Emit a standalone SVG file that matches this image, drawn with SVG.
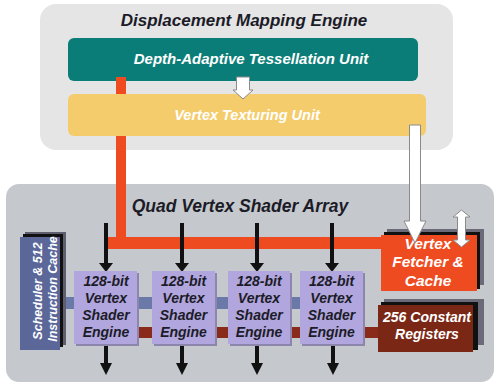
<svg xmlns="http://www.w3.org/2000/svg" width="500" height="390" viewBox="0 0 500 390">
<style>
text{font-family:"Liberation Sans",Arial,sans-serif;font-weight:bold;font-style:italic;text-anchor:middle}
.w{fill:#ffffff}
.d{fill:#1c1c28}
.eng{fill:#b1a6dd}
.engsh{fill:#8c86ad}
.arr{stroke:#111;stroke-width:4;fill:none}
.head{fill:#111}
.warr{fill:#ffffff;stroke:#8a8a8a;stroke-width:1}
</style>
<rect width="500" height="390" fill="#ffffff"/>
<g id="displacement-panel">
<rect x="40" y="4" width="413" height="146" rx="16" fill="#e5e5e5"/>
<text x="244" y="26" font-size="17" class="d" fill="#111">Displacement Mapping Engine</text>
</g>
<g id="tessellation-unit">
<rect x="68" y="38" width="350" height="43" rx="6" fill="#0b7d78"/>
<text x="251" y="64" font-size="15" class="w">Depth-Adaptive Tessellation Unit</text>
</g>
<g id="shader-array-panel">
<rect x="6" y="184" width="488" height="198" rx="13" fill="#c5c8cc"/>
<text x="240" y="212" font-size="17.5" class="d">Quad Vertex Shader Array</text>
</g>
<g id="connectors">
<rect x="116" y="77" width="10" height="172" fill="#ee4b20"/>
<rect x="105" y="237" width="278" height="12" fill="#ee4b20"/>
<rect x="59" y="297" width="16" height="12" fill="#6b79a8"/>
<rect x="137" y="297" width="16" height="12" fill="#6b79a8"/>
<rect x="215" y="297" width="14" height="12" fill="#6b79a8"/>
<rect x="290" y="297" width="11" height="12" fill="#6b79a8"/>
<rect x="137" y="327" width="16" height="11" fill="#8a2a1a"/>
<rect x="215" y="327" width="14" height="11" fill="#8a2a1a"/>
<rect x="290" y="327" width="11" height="11" fill="#8a2a1a"/>
<rect x="363" y="327" width="16" height="11" fill="#8a2a1a"/>
<line class="arr" x1="106" y1="223" x2="106" y2="265"/>
<polygon class="head" points="99,263 113,263 106,272"/>
<line class="arr" x1="182" y1="223" x2="182" y2="265"/>
<polygon class="head" points="175,263 189,263 182,272"/>
<line class="arr" x1="257" y1="223" x2="257" y2="265"/>
<polygon class="head" points="250,263 264,263 257,272"/>
<line class="arr" x1="332" y1="223" x2="332" y2="265"/>
<polygon class="head" points="325,263 339,263 332,272"/>
<line class="arr" x1="106" y1="344" x2="106" y2="365"/>
<polygon class="head" points="100,363 112,363 106,375"/>
<line class="arr" x1="182" y1="344" x2="182" y2="365"/>
<polygon class="head" points="176,363 188,363 182,375"/>
<line class="arr" x1="257" y1="344" x2="257" y2="365"/>
<polygon class="head" points="251,363 263,363 257,375"/>
<line class="arr" x1="333" y1="344" x2="333" y2="365"/>
<polygon class="head" points="327,363 339,363 333,375"/>
</g>
<g id="vertex-texturing-unit">
<rect x="68" y="94" width="358" height="42" rx="6" fill="#f4cc6c"/>
<text x="247" y="120" font-size="14.5" class="w">Vertex Texturing Unit</text>
</g>
<g id="scheduler">
<rect x="25" y="232" width="41" height="113" fill="#5e5e6e"/>
<rect x="23" y="234" width="40" height="113" fill="#111"/>
<rect x="20" y="237" width="40" height="113" fill="#5b6799"/>
<text transform="translate(42,291) rotate(-90)" font-size="12.5" class="w">Scheduler &amp; 512</text>
<text transform="translate(57,289) rotate(-90)" font-size="12.5" class="w">Instruction Cache</text>
</g>
<g id="engine-1">
<rect class="engsh" x="76" y="273" width="63" height="73"/>
<rect class="eng" x="74" y="271" width="63" height="73"/>
<text x="106" y="286" font-size="14" class="d">128-bit</text>
<text x="106" y="303" font-size="14" class="d">Vertex</text>
<text x="106" y="320" font-size="14" class="d">Shader</text>
<text x="106" y="337" font-size="14" class="d">Engine</text>
</g>
<g id="engine-2">
<rect class="engsh" x="154" y="273" width="63" height="73"/>
<rect class="eng" x="152" y="271" width="63" height="73"/>
<text x="183.5" y="286" font-size="14" class="d">128-bit</text>
<text x="183.5" y="303" font-size="14" class="d">Vertex</text>
<text x="183.5" y="320" font-size="14" class="d">Shader</text>
<text x="183.5" y="337" font-size="14" class="d">Engine</text>
</g>
<g id="engine-3">
<rect class="engsh" x="230" y="273" width="62" height="73"/>
<rect class="eng" x="228" y="271" width="62" height="73"/>
<text x="259" y="286" font-size="14" class="d">128-bit</text>
<text x="259" y="303" font-size="14" class="d">Vertex</text>
<text x="259" y="320" font-size="14" class="d">Shader</text>
<text x="259" y="337" font-size="14" class="d">Engine</text>
</g>
<g id="engine-4">
<rect class="engsh" x="302" y="273" width="63" height="73"/>
<rect class="eng" x="300" y="271" width="63" height="73"/>
<text x="331.5" y="286" font-size="14" class="d">128-bit</text>
<text x="331.5" y="303" font-size="14" class="d">Vertex</text>
<text x="331.5" y="320" font-size="14" class="d">Shader</text>
<text x="331.5" y="337" font-size="14" class="d">Engine</text>
</g>
<g id="vertex-fetcher">
<rect x="387" y="229" width="97" height="56" fill="#6a6a78"/>
<rect x="384" y="232" width="96" height="57" fill="#111"/>
<rect x="381" y="235" width="96" height="56" fill="#ee4b20"/>
<text x="428" y="249" font-size="15.5" class="w">Vertex</text>
<text x="428" y="267" font-size="15.5" class="w">Fetcher &amp;</text>
<text x="428" y="286" font-size="15.5" class="w">Cache</text>
</g>
<g id="constant-registers">
<rect x="384" y="299" width="100" height="46" fill="#6a6a78"/>
<rect x="381" y="302" width="97" height="48" fill="#111"/>
<rect x="378" y="305" width="95" height="47" fill="#7a2716"/>
<text x="427" y="322" font-size="14" class="w">256 Constant</text>
<text x="427" y="339" font-size="14" class="w">Registers</text>
</g>
<g id="white-arrows">
<polygon class="warr" points="236.5,77 249.5,77 249.5,90 253,90 243,99 233,90 236.5,90"/>
<polygon class="warr" points="409.5,125 420.5,125 420.5,221 426,221 415,243 404,221 409.5,221"/>
<polygon class="warr" points="461.5,210 470,217 465.5,217 465.5,240 470,240 461.5,247 453,240 457.5,240 457.5,217 453,217"/>
</g>
</svg>
